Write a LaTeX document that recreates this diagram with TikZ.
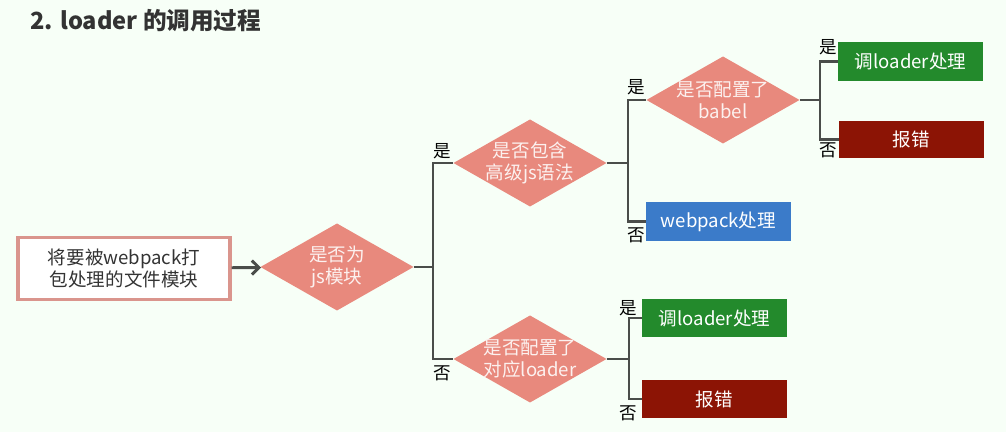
\documentclass[tikz,border=0pt]{standalone}
\usepackage{fontspec}
\setmainfont{Noto Sans CJK SC}
\usetikzlibrary{shapes.geometric}
\usetikzlibrary{arrows.meta}
\definecolor{linegray}{HTML}{4A4D4A}
\definecolor{salmon}{HTML}{E8897D}
\definecolor{okgreen}{HTML}{238A2C}
\definecolor{errred}{HTML}{8C1405}
\definecolor{wpblue}{HTML}{3B7BC9}
\definecolor{srcpink}{HTML}{DA958D}
\definecolor{titlegray}{HTML}{333333}
\tikzset{ask/.style={diamond, aspect=1.77, fill=salmon, text=white!88!salmon, inner sep=-5pt,
   minimum width=3.83cm, minimum height=2.18cm, align=center,
   font=\fontsize{13.2}{15.6}\selectfont},
 act/.style={rectangle, inner sep=0pt, minimum width=3.62cm, minimum height=0.96cm,
   text=white, font=\fontsize{13.2}{15.6}\selectfont},
 ok/.style={act, fill=okgreen},
 err/.style={act, fill=errred},
 wp/.style={act, fill=wpblue},
 lbl/.style={inner sep=0pt, font=\fontsize{12.5}{14}\selectfont},
 wire/.style={draw=linegray, line width=2.1pt},
 >={Straight Barb[length=5pt,width=10pt]},
 }

\begin{document}
\begin{tikzpicture}[x=0.025cm, y=0.025cm]
        \fill[white!97!green] (0,0) rectangle (1006,432);
        \useasboundingbox (0,0) rectangle (1006,432);

        \node[anchor=west, inner sep=0pt, text=titlegray, font=\fontsize{16.8}{19}\selectfont\bfseries] (title) at (30,411) {2. loader 的调用过程};

        \node[draw=srcpink, line width=2.2pt, fill=white, minimum width=5.3cm, minimum height=1.55cm,
            align=center, text=titlegray, font=\fontsize{13.2}{15.6}\selectfont] (src) at (124,163.5) {将要被webpack打\\包处理的文件模块};

        \node[ask] (isjs) at (337,165) {是否为\\js模块};
        \node[ask] (hasnew) at (530,269) {是否包含\\高级js语法};
        \node[ask] (hasbabel) at (723,332) {是否配置了\\babel};
        \node[ask] (hasloader) at (530,73) {是否配置了\\对应loader};

        \node[wp] (wpdo) at (718.5,210.5) {webpack处理};
        \node[ok] (babelok) at (910.5,370.5) {调loader处理};
        \node[err, minimum height=0.93cm] (babelerr) at (911.5,292.5) {报错};
        \node[ok] (loaderok) at (714.5,114) {调loader处理};
        \node[err] (loadererr) at (714.5,33) {报错};

        \coordinate (j1) at (433,165);
        \coordinate (j2) at (628,269);
        \coordinate (j3) at (820,332);
        \coordinate (j4) at (629,73);

        \draw[wire, ->] (src) -- (isjs);
        \draw[wire] (isjs) -- (j1);
        \draw[wire] (hasnew.west) -| (j1) |- (hasloader.west);
        \draw[wire] (hasnew) -- (j2);
        \draw[wire] (hasbabel.west) -| (j2) |- (wpdo.west);
        \draw[wire] (hasbabel) -- (j3);
        \draw[wire] (babelok.west) -| (j3) |- (babelerr.west);
        \draw[wire] (hasloader) -- (j4);
        \draw[wire] (loaderok.west) -| (j4) |- (loadererr.west);

        \node[lbl] (yes1) at ([shift={(-11,12)}]hasnew.west) {是};
        \node[lbl] (no1) at ([shift={(-11,-14)}]hasloader.west) {否};
        \node[lbl] (yes2) at ([shift={(-10,13)}]hasbabel.west) {是};
        \node[lbl] (no2) at ([shift={(-10,-14)}]wpdo.west) {否};
        \node[lbl] (yes3) at ([shift={(-10,14)}]babelok.west) {是};
        \node[lbl] (no3) at ([shift={(-11,-11)}]babelerr.west) {否};
        \node[lbl] (yes4) at ([shift={(-14,10)}]loaderok.west) {是};
        \node[lbl] (no4) at ([shift={(-14,-14)}]loadererr.west) {否};
    \end{tikzpicture}
\end{document}
